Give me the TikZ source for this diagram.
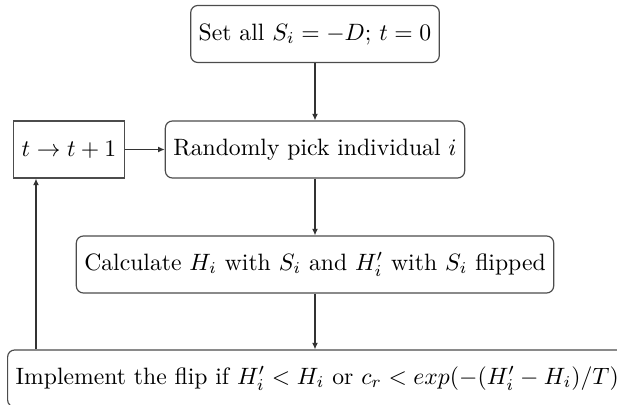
\documentclass[tikz,border=0pt]{standalone}
\usepackage{amsmath,amssymb}
\usetikzlibrary{arrows.meta,calc,positioning}

\tikzset{
  stepbox/.style={draw=black!70,line width=0.5pt,rounded corners=3pt,minimum height=24.1pt,inner sep=3.4pt},
  incbox/.style={draw=black!70,line width=0.5pt,minimum height=24.1pt,inner sep=3.4pt},
  flow/.style={draw=black!80,line width=0.5pt,-{Latex[length=2.8pt,width=2.5pt]}}
}

\begin{document}
\begin{tikzpicture}[x=0.4227pt,y=-0.4227pt]
    \useasboundingbox (0,0) rectangle (617,405);
    \node[stepbox] (init) at (315,34) {Set all $S_i=-D$; $t=0$};
    \node[stepbox] (pick) at (315,149.5) {Randomly pick individual $i$};
    \node[incbox] (tinc) at (69,149.5) {$t\rightarrow t+1$};
    \node[stepbox] (calc) at (315,264.5) {Calculate $H_i$ with $S_i$ and $H_i'$ with $S_i$ flipped};
    \node[stepbox,anchor=west] (impl) at (7,378.5) {Implement the flip if $H_i'<H_i$ or $c_r<exp(-(H_i'-H_i)/T)$};
    \coordinate (loopx) at (36,0);
    \draw[flow] (init) -- (pick);
    \draw[flow] (pick) -- (calc);
    \draw[flow] (calc) -- (calc |- impl.north);
    \draw[flow] (tinc) -- (pick);
    \draw[flow] (loopx |- impl.north) -- (loopx |- tinc.south);
\end{tikzpicture}
\end{document}
